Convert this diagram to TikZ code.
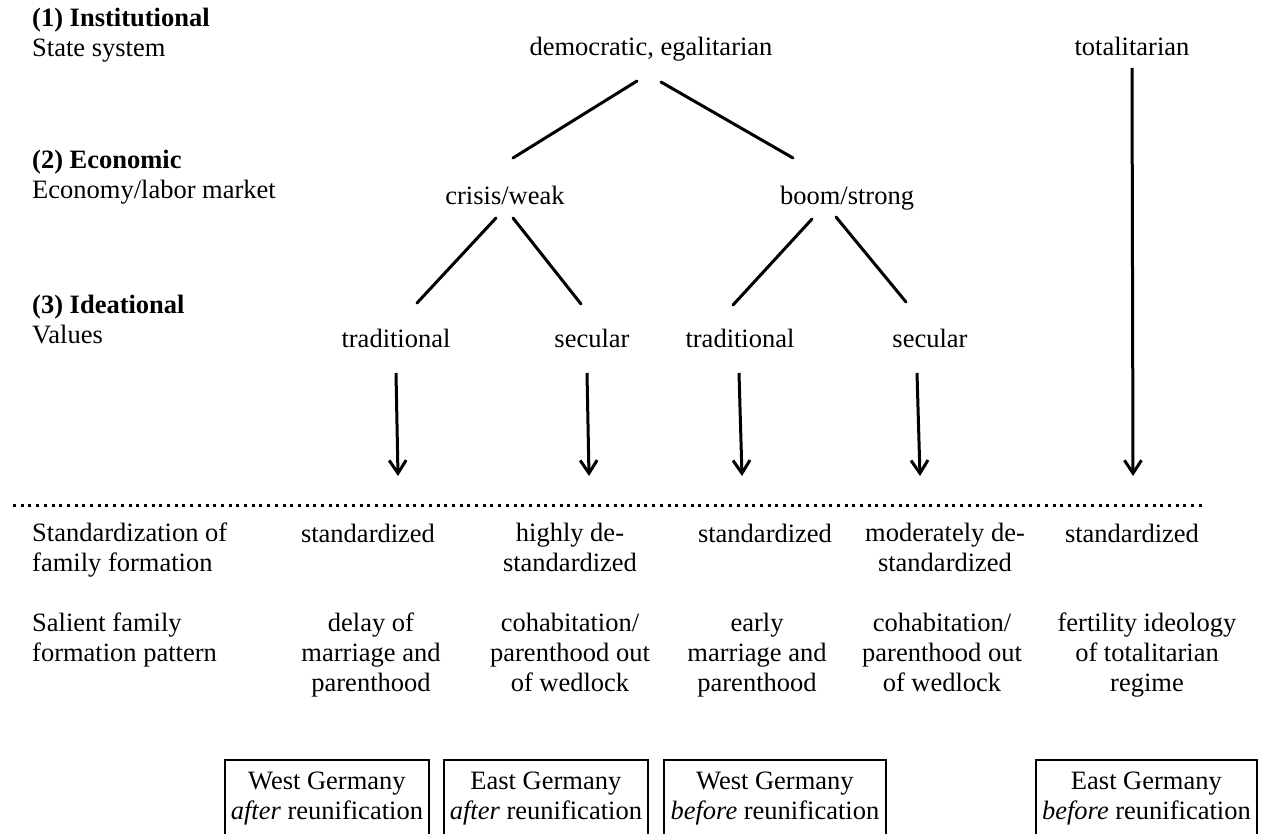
\documentclass[tikz,border=0pt]{standalone}
\usepackage{fontspec}
\setmainfont{Liberation Serif}
\usetikzlibrary{arrows.meta}
\begin{document}
\begin{tikzpicture}[x=1pt,y=-1pt,
  lbl/.style={font=\fontsize{26.5}{30}\selectfont, inner sep=0pt},
  mlbl/.style={lbl, align=center, anchor=north},
  side/.style={lbl, align=left, anchor=north west},
  tree/.style={line width=3pt, line cap=round},
  down/.style={line width=3pt, -{Straight Barb[length=13pt,width=17pt]}},
  dotline/.style={line width=3pt, dash pattern=on 3pt off 4.7pt},
  outbox/.style={draw, line width=1.8pt, lbl, align=center, anchor=north west, inner xsep=0pt, inner ysep=9pt}]
\useasboundingbox (0,0) rectangle (1261,834);

% left-hand labels
\node[side] (lab1) at (32,5) {\strut\textbf{(1) Institutional}\\State system};
\node[side] (lab2) at (32,147) {\strut\textbf{(2) Economic}\\Economy/labor market};
\node[side] (lab3) at (32,292) {\strut\textbf{(3) Ideational}\\Values};
\node[side] (lab4) at (32,520) {\strut Standardization of\\family formation};
\node[side] (lab5) at (32,610) {\strut Salient family\\formation pattern};

% tree
\node[lbl, anchor=base] (dem) at (651,56) {democratic, egalitarian};
\node[lbl, anchor=base] (total) at (1132,56) {totalitarian};
\node[lbl, anchor=base] (crisis) at (505,205) {crisis/weak};
\node[lbl, anchor=base] (boom) at (847,205) {boom/strong};
\node[lbl, anchor=base] (trad1) at (396,347) {traditional};
\node[lbl, anchor=base] (sec1) at (592,347) {secular};
\node[lbl, anchor=base] (trad2) at (740,347) {traditional};
\node[lbl, anchor=base] (sec2) at (930,347) {secular};

\draw[tree] ([shift={(-14,25)}]dem.base) -- ([shift={(8,-47)}]crisis.base);
\draw[tree] ([shift={(10,26)}]dem.base) -- ([shift={(-54,-47)}]boom.base);
\draw[tree] ([shift={(-9,13)}]crisis.base) -- ([shift={(21,-44)}]trad1.base);
\draw[tree] ([shift={(8,13)}]crisis.base) -- ([shift={(-11,-43)}]sec1.base);
\draw[tree] ([shift={(-35,14)}]boom.base) -- ([shift={(-7,-42)}]trad2.base);
\draw[tree] ([shift={(-11,12)}]boom.base) -- ([shift={(-24,-45)}]sec2.base);

% arrows
\coordinate (t1) at (398,476);
\coordinate (t2) at (589,476);
\coordinate (t3) at (742,476);
\coordinate (t4) at (920,476);
\coordinate (t5) at (1133,476);
\draw[down] ([shift={(0,26)}]trad1.base) -- (t1);
\draw[down] ([shift={(-5,26)}]sec1.base) -- (t2);
\draw[down] ([shift={(-1,26)}]trad2.base) -- (t3);
\draw[down] ([shift={(-13,26)}]sec2.base) -- (t4);
\draw[down] ([shift={(0,12)}]total.base) -- (t5);

% dotted separator
\coordinate (dl) at (13,505);
\coordinate (dr) at (1205,505);
\draw[dotline] (dl) -- (dr);

% standardization row
\node[lbl, anchor=base] (s1) at (368,542) {standardized};
\node[mlbl] (s2) at (570,520) {\strut highly de-\\standardized};
\node[lbl, anchor=base] (s3) at (765,542) {standardized};
\node[mlbl] (s4) at (945,520) {\strut moderately de-\\standardized};
\node[lbl, anchor=base] (s5) at (1132,542) {standardized};

% pattern row
\node[mlbl] (p1) at (371,610) {\strut delay of\\marriage and\\parenthood};
\node[mlbl] (p2) at (570,610) {\strut cohabitation/\\parenthood out\\of wedlock};
\node[mlbl] (p3) at (757,610) {\strut early\\marriage and\\parenthood};
\node[mlbl] (p4) at (942,610) {\strut cohabitation/\\parenthood out\\of wedlock};
\node[mlbl] (p5) at (1147,610) {\strut fertility ideology\\of totalitarian\\regime};

% country boxes
\begin{scope}
\clip (0,0) rectangle (1261,834);
\node[outbox, minimum width=204pt] (b1) at (224,759) {\strut West Germany\\\textit{after} reunification\strut};
\node[outbox, minimum width=204pt] (b2) at (443,759) {\strut East Germany\\\textit{after} reunification\strut};
\node[outbox, minimum width=222pt] (b3) at (663,759) {\strut West Germany\\\textit{before} reunification\strut};
\node[outbox, minimum width=221pt] (b4) at (1035,759) {\strut East Germany\\\textit{before} reunification\strut};
\end{scope}
\end{tikzpicture}
\end{document}
